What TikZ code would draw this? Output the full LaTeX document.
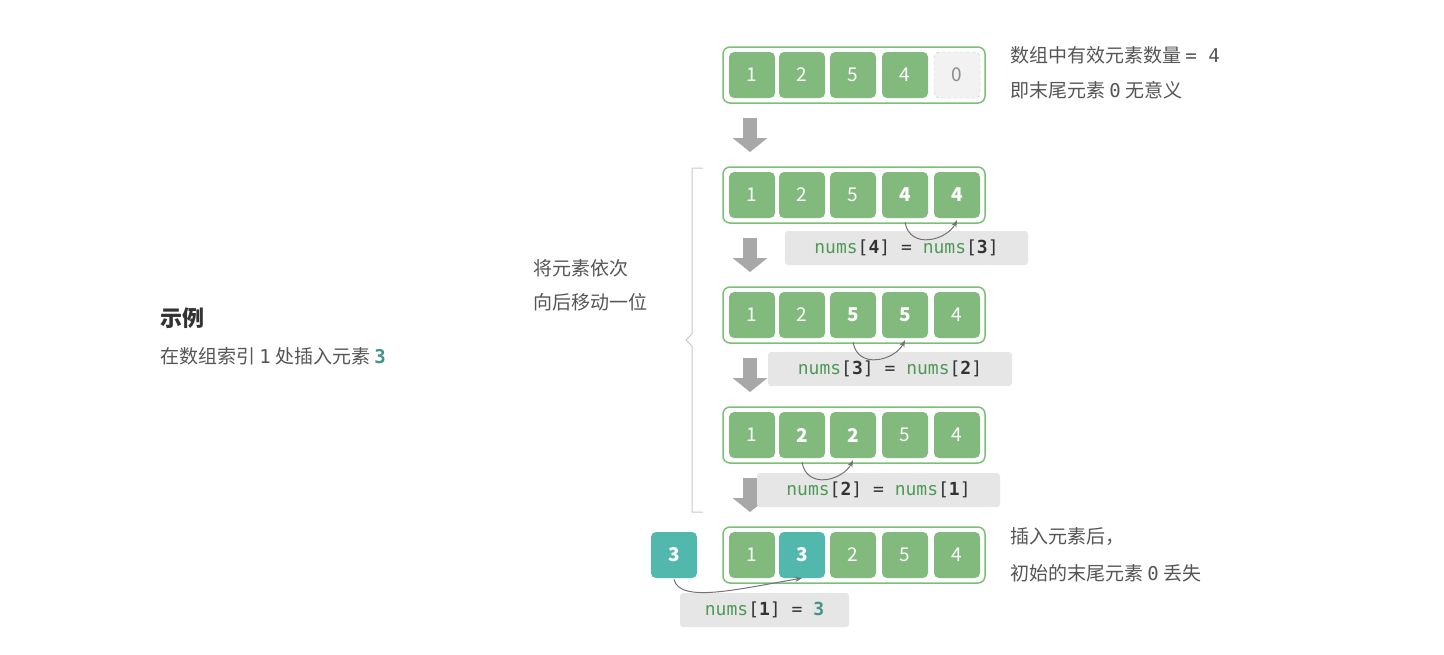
\documentclass[tikz,border=0pt]{standalone}
\usepackage{fontspec}
\setmainfont{Noto Sans CJK SC}
\setmonofont{DejaVu Sans Mono}
\usetikzlibrary{arrows.meta}
\definecolor{cg}{HTML}{82BA7E}
\definecolor{cgb}{HTML}{7CBF78}
\definecolor{teal}{HTML}{52B8AE}
\definecolor{tx}{HTML}{555555}
\definecolor{lb}{HTML}{E6E6E6}
\definecolor{code}{HTML}{4E9A55}
\definecolor{dk}{HTML}{333333}
\definecolor{arr}{HTML}{A8A8A8}
\begin{document}
\begin{tikzpicture}[x=1pt,y=-1pt,
 cell/.style={rounded corners=5pt,fill=cg,minimum width=46pt,minimum height=46pt,text=white,font=\fontsize{19}{19}\selectfont,inner sep=0pt},
 bcell/.style={cell,font=\fontsize{19}{19}\selectfont\bfseries},
 tcell/.style={bcell,fill=teal},
 ecell/.style={cell,fill=black!5,draw=black!25,dashed,text=black!45},
 frame/.style={draw=cgb,line width=1.5pt,rounded corners=7pt,minimum width=262pt,minimum height=56pt,inner sep=0pt},
 down/.style={-{Triangle[length=14pt,width=34pt]},line width=14pt,arr},
 lab/.style={fill=lb,rounded corners=3pt,minimum height=34pt,inner sep=0pt,font=\fontsize{18}{18}\ttfamily,text=code},
 txt/.style={text=tx,font=\fontsize{19}{19}\selectfont,anchor=west,inner sep=0pt},
 curv/.style={-{Stealth[length=7pt]},draw=black!55,line width=1pt}]
\useasboundingbox (0,0) rectangle (1444,654);
\newcommand{\bb}[1]{\textcolor{dk}{\textbf{#1}}}
\newcommand{\br}[1]{\textcolor{dk}{#1}}
% frames
\foreach \r/\y in {1/75,2/195,3/315,4/435,5/555} \node[frame] (f\r) at (854,\y) {};
% row 1
\node[cell] (a1) at (752,75) {1}; \node[cell] (a2) at (802,75) {2}; \node[cell] (a3) at (853,75) {5}; \node[cell] (a4) at (905,75) {4}; \node[ecell] (a5) at (957,75) {0};
% row 2
\node[cell] (b1) at (752,195) {1}; \node[cell] (b2) at (802,195) {2}; \node[cell] (b3) at (853,195) {5}; \node[bcell] (b4) at (905,195) {4}; \node[bcell] (b5) at (957,195) {4};
% row 3
\node[cell] (c1) at (752,315) {1}; \node[cell] (c2) at (802,315) {2}; \node[bcell] (c3) at (853,315) {5}; \node[bcell] (c4) at (905,315) {5}; \node[cell] (c5) at (957,315) {4};
% row 4
\node[cell] (d1) at (752,435) {1}; \node[bcell] (d2) at (802,435) {2}; \node[bcell] (d3) at (853,435) {2}; \node[cell] (d4) at (905,435) {5}; \node[cell] (d5) at (957,435) {4};
% row 5
\node[cell] (e1) at (752,555) {1}; \node[tcell] (e2) at (802,555) {3}; \node[cell] (e3) at (853,555) {2}; \node[cell] (e4) at (905,555) {5}; \node[cell] (e5) at (957,555) {4};
\node[tcell] (new) at (674,555) {3};
% down arrows
\foreach \i/\y in {1/118,2/238,3/358,4/478} {\coordinate (s\i) at (750,\y); \coordinate (t\i) at (750,\y+34); \draw[down] (s\i) -- (t\i);}
% labels
\node[lab,minimum width=243pt] (l2) at (906.5,248) {nums\br{[}\bb{4}\br{]} \br{=} nums\br{[}\bb{3}\br{]}};
\node[lab,minimum width=244pt] (l3) at (890,369) {nums\br{[}\bb{3}\br{]} \br{=} nums\br{[}\bb{2}\br{]}};
\node[lab,minimum width=243pt] (l4) at (878.5,490) {nums\br{[}\bb{2}\br{]} \br{=} nums\br{[}\bb{1}\br{]}};
\node[lab,minimum width=169pt] (l5) at (764.5,610) {nums\br{[}\bb{1}\br{]} \br{=} \textcolor{teal!80!black}{\textbf{3}}};
% curved arrows
\draw[curv] ([yshift=-4pt]b4.south) .. controls +(5,28) and +(-10,20) .. ([yshift=-2pt]b5.south);
\draw[curv] ([yshift=-4pt]c3.south) .. controls +(5,28) and +(-10,20) .. ([yshift=-2pt]c4.south);
\draw[curv] ([yshift=-4pt]d2.south) .. controls +(5,28) and +(-10,20) .. ([yshift=-2pt]d3.south);
\draw[curv] ([yshift=-1pt]new.south) .. controls +(5,25) and +(-60,10) .. ([yshift=0pt]e2.south);
% brace
\coordinate (br1) at (703,168); \coordinate (br2) at (703,512); \coordinate (brm) at (686,340);
\draw[black!22,line width=1pt] (br1) -- (692,168) -- (692,334) -- (brm) -- (692,346) -- (692,512) -- (br2);
\node[txt] (bt1) at (533,268) {将元素依次};
\node[txt] (bt2) at (533,302) {向后移动一位};
% left text
\node[txt,text=dk,font=\fontsize{22}{22}\selectfont\bfseries] (h) at (160,318) {示例};
\node[txt] (h2) at (160,356) {在数组索引 \texttt{1} 处插入元素 \textcolor{teal!80!black}{\texttt{\textbf{3}}}};
% right texts
\node[txt] (r1) at (1010,55) {数组中有效元素数量 \texttt{= 4}};
\node[txt] (r2) at (1010,90) {即末尾元素 \texttt{0} 无意义};
\node[txt] (r3) at (1010,537) {插入元素后，};
\node[txt] (r4) at (1010,573) {初始的末尾元素 \texttt{0} 丢失};
\end{tikzpicture}
\end{document}
